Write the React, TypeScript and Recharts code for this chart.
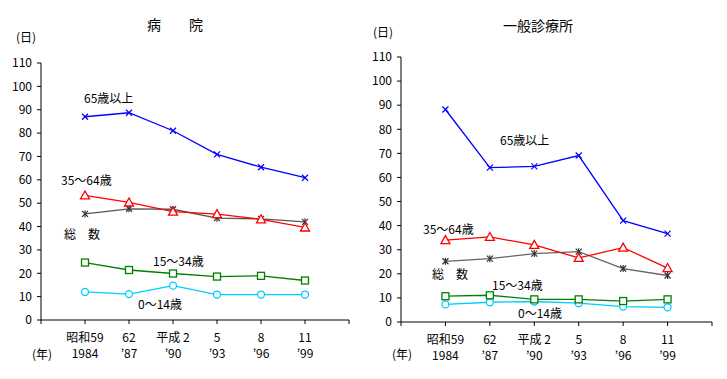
import React from 'react';
import { LineChart, Line, XAxis, YAxis } from 'recharts';

const years = [1984, 1987, 1990, 1993, 1996, 1999];
const eraLabels = ['昭和59', '62', '平成 2', '5', '8', '11'];
const westernLabels = ['1984', '’87', '’90', '’93', '’96', '’99'];
const yTicks = [0, 10, 20, 30, 40, 50, 60, 70, 80, 90, 100, 110];
const xTicks = [1981, 1984, 1987, 1990, 1993, 1996, 1999, 2002];

// 病院
const hospitalTotal = [45.4, 47.6, 47.4, 43.6, 43.3, 42.0];
const hospital0to14 = [12.0, 11.1, 14.7, 10.9, 10.9, 10.9];
const hospital15to34 = [24.6, 21.4, 19.9, 18.6, 18.9, 16.9];
const hospital35to64 = [53.3, 50.3, 46.4, 45.3, 43.1, 39.6];
const hospital65plus = [87.0, 88.7, 81.0, 70.9, 65.4, 60.9];

// 一般診療所
const clinicTotal = [25.2, 26.3, 28.4, 29.2, 22.2, 19.3];
const clinic0to14 = [7.3, 8.2, 8.5, 7.8, 6.4, 6.1];
const clinic15to34 = [10.7, 11.1, 9.4, 9.4, 8.7, 9.4];
const clinic35to64 = [34.0, 35.3, 32.0, 26.6, 30.9, 22.4];
const clinic65plus = [88.2, 64.1, 64.6, 69.1, 42.1, 36.7];

const FONT = '"Noto Sans CJK JP", "DejaVu Sans", sans-serif';

const buildRows = (total: number[], a: number[], b: number[], c: number[], d: number[]) =>
  years.map((year, i) => ({ year, total: total[i], a0: a[i], a15: b[i], a35: c[i], a65: d[i] }));

const hospitalData = buildRows(hospitalTotal, hospital0to14, hospital15to34, hospital35to64, hospital65plus);
const clinicData = buildRows(clinicTotal, clinic0to14, clinic15to34, clinic35to64, clinic65plus);

const CrossDot = (props: any) => {
  const { cx, cy } = props;
  const s = 3;
  return (
    <g stroke="#0000FF" strokeWidth={1.2}>
      <line x1={cx - s} y1={cy - s} x2={cx + s} y2={cy + s} />
      <line x1={cx - s} y1={cy + s} x2={cx + s} y2={cy - s} />
    </g>
  );
};

const TriangleDot = (props: any) => {
  const { cx, cy } = props;
  return (
    <polygon
      points={`${cx},${cy - 4.5} ${cx - 4.5},${cy + 3.5} ${cx + 4.5},${cy + 3.5}`}
      fill="#fff"
      stroke="#FF0000"
      strokeWidth={1.3}
    />
  );
};

const StarDot = (props: any) => {
  const { cx, cy } = props;
  const s = 3;
  return (
    <g stroke="#333" strokeWidth={1.2}>
      <line x1={cx - s} y1={cy - s} x2={cx + s} y2={cy + s} />
      <line x1={cx - s} y1={cy + s} x2={cx + s} y2={cy - s} />
      <line x1={cx} y1={cy - s - 0.5} x2={cx} y2={cy + s + 0.5} />
    </g>
  );
};

const SquareDot = (props: any) => {
  const { cx, cy } = props;
  return <rect x={cx - 3.5} y={cy - 3.5} width={7} height={7} fill="#fff" stroke="#008000" strokeWidth={1.3} />;
};

const CircleDot = (props: any) => {
  const { cx, cy } = props;
  return <circle cx={cx} cy={cy} r={3.5} fill="#fff" stroke="#00CCFF" strokeWidth={1.3} />;
};

const YearTick = (props: any) => {
  const { x, y, payload } = props;
  const i = years.indexOf(payload.value);
  if (i < 0) return <g />;
  return (
    <g>
      <text x={x} y={y + 16} textAnchor="middle" fontSize={12} fill="#000" fontFamily={FONT}>
        {eraLabels[i]}
      </text>
      <text x={x} y={y + 32} textAnchor="middle" fontSize={12} fill="#000" fontFamily={FONT}>
        {westernLabels[i]}
      </text>
    </g>
  );
};

const Panel = ({ data, width, top, bottom, right, totalColor }: any) => (
  <LineChart width={width} height={379} data={data} margin={{ top, right, bottom, left: 0 }}>
    <XAxis
      type="number"
      dataKey="year"
      domain={[1981, 2002]}
      ticks={xTicks}
      tickSize={4}
      tickLine={{ stroke: '#000' }}
      axisLine={{ stroke: '#000' }}
      tick={<YearTick />}
      height={40}
    />
    <YAxis
      domain={[0, 110]}
      ticks={yTicks}
      tickSize={4}
      tickMargin={5}
      width={41}
      tickLine={{ stroke: '#000' }}
      axisLine={{ stroke: '#000' }}
      tick={{ fill: '#000', fontSize: 12, fontFamily: FONT }}
    />
    <Line dataKey="total" stroke={totalColor} strokeWidth={1.3} dot={<StarDot />} isAnimationActive={false} />
    <Line dataKey="a0" stroke="#00CCFF" strokeWidth={1.3} dot={<CircleDot />} isAnimationActive={false} />
    <Line dataKey="a15" stroke="#008000" strokeWidth={1.3} dot={<SquareDot />} isAnimationActive={false} />
    <Line dataKey="a35" stroke="#FF0000" strokeWidth={1.3} dot={<TriangleDot />} isAnimationActive={false} />
    <Line dataKey="a65" stroke="#0000FF" strokeWidth={1.3} dot={<CrossDot />} isAnimationActive={false} />
  </LineChart>
);

const Note = ({ x, y, children, size = 12 }: any) => (
  <div
    style={{
      position: 'absolute',
      left: x,
      top: y,
      fontSize: size,
      lineHeight: 1,
      whiteSpace: 'pre',
      fontFamily: FONT,
      color: '#000',
    }}
  >
    {children}
  </div>
);

export default function App() {
  return (
    <div style={{ position: 'absolute', left: 0, top: 0, width: 727, height: 379, background: '#fff' }}>
      <div style={{ position: 'absolute', left: 0, top: 0 }}>
        <Panel data={hospitalData} width={360} top={63} bottom={19} right={11} totalColor="#555" />
      </div>
      <div style={{ position: 'absolute', left: 360, top: 0 }}>
        <Panel data={clinicData} width={367} top={57} bottom={17} right={15} totalColor="#666" />
      </div>

      <Note x={147} y={17} size={14}>{'病　　院'}</Note>
      <Note x={503} y={18} size={14}>一般診療所</Note>
      <Note x={16} y={31}>(日)</Note>
      <Note x={373} y={26}>(日)</Note>
      <Note x={32} y={348}>(年)</Note>
      <Note x={392} y={348}>(年)</Note>

      <Note x={84} y={92}>65歳以上</Note>
      <Note x={61} y={174}>35～64歳</Note>
      <Note x={64} y={228}>{'総　数'}</Note>
      <Note x={153} y={255}>15～34歳</Note>
      <Note x={138} y={298}>0～14歳</Note>

      <Note x={500} y={134}>65歳以上</Note>
      <Note x={423} y={223}>35～64歳</Note>
      <Note x={432} y={268}>{'総　数'}</Note>
      <Note x={492} y={279}>15～34歳</Note>
      <Note x={518} y={307}>0～14歳</Note>
    </div>
  );
}
